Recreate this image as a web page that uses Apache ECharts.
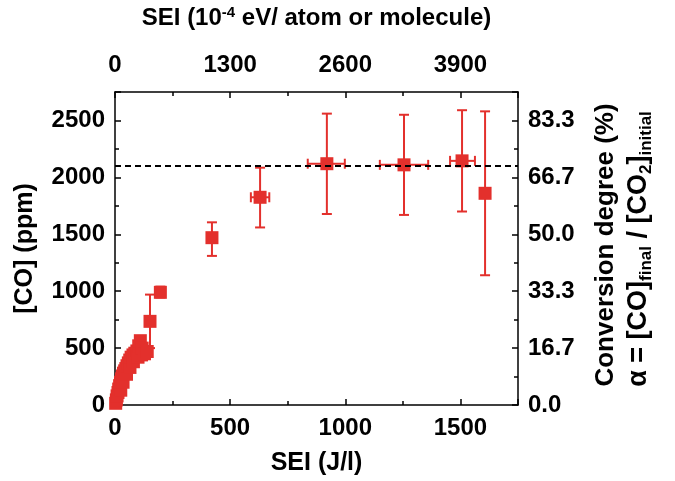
<!DOCTYPE html>
<html>
<head>
<meta charset="utf-8">
<script src="https://cdn.jsdelivr.net/npm/echarts@6/dist/echarts.min.js"></script>
<style>html,body{margin:0;padding:0;background:#fff}#c{width:675px;height:481px}</style>
</head>
<body>
<div id="c"></div>
<script>
// ---- data ----
const seiCluster = [3, 6, 9, 13, 16, 20, 25, 24, 28, 32, 35, 37, 42, 47, 50, 52, 58, 64, 65, 70, 78, 80, 86, 95, 100, 103, 110, 115, 118, 128, 140, 152, 197];
const coCluster  = [15, 45, 80, 110, 140, 170, 130, 200, 230, 255, 200, 280, 300, 320, 270, 345, 370, 395, 330, 420, 440, 380, 455, 475, 420, 520, 565, 440, 500, 450, 470, 735, 990];
const clusterErrLow  = {152: 500, 197: 945};
const clusterErrHigh = {152: 970, 197: 1040};

const seiMain  = [421, 630, 920, 1255, 1507, 1607];
const coMain   = [1470, 1825, 2120, 2110, 2145, 1860];
const yErrLow  = [1310, 1560, 1678, 1670, 1700, 1140];
const yErrHigh = [1605, 2085, 2560, 2550, 2590, 2580];
const xErrLow  = [null, 590, 837, 1150, 1455, null];
const xErrHigh = [null, 670, 998, 1360, 1563, null];

const maxLine = 2100;
const bottomTicks = [0, 500, 1000, 1500];
const topTicks = [0, 1300, 2600, 3900];
const leftTicks = [0, 500, 1000, 1500, 2000, 2500];
const rightTicks = ['0.0', '16.7', '33.3', '50.0', '66.7', '83.3'];

// ---- build ----
const RED = '#e3302c';
const FONT = 'Liberation Sans';
const pts = [];
seiCluster.forEach((x, i) => pts.push([x, coCluster[i]]));
seiMain.forEach((x, i) => pts.push([x, coMain[i]]));

const errData = [];
seiCluster.forEach((x, i) => {
  if (clusterErrLow[x] !== undefined) errData.push([x, coCluster[i], clusterErrLow[x], clusterErrHigh[x], '-', '-']);
});
seiMain.forEach((x, i) => {
  errData.push([x, coMain[i], yErrLow[i], yErrHigh[i],
    xErrLow[i] == null ? '-' : xErrLow[i], xErrHigh[i] == null ? '-' : xErrHigh[i]]);
});

function renderErr(params, api) {
  const x = api.value(0), y = api.value(1);
  const yl = api.value(2), yh = api.value(3), xl = api.value(4), xh = api.value(5);
  const style = { stroke: RED, lineWidth: 2 };
  const ch = [];
  const cap = 5;
  if (!isNaN(yl)) {
    const a = api.coord([x, yl]), b = api.coord([x, yh]);
    ch.push({ type: 'line', shape: { x1: a[0], y1: a[1], x2: b[0], y2: b[1] }, style });
    ch.push({ type: 'line', shape: { x1: a[0] - cap, y1: a[1], x2: a[0] + cap, y2: a[1] }, style });
    ch.push({ type: 'line', shape: { x1: b[0] - cap, y1: b[1], x2: b[0] + cap, y2: b[1] }, style });
  }
  if (!isNaN(xl)) {
    const a = api.coord([xl, y]), b = api.coord([xh, y]);
    ch.push({ type: 'line', shape: { x1: a[0], y1: a[1], x2: b[0], y2: b[1] }, style });
    ch.push({ type: 'line', shape: { x1: a[0], y1: a[1] - cap, x2: a[0], y2: a[1] + cap }, style });
    ch.push({ type: 'line', shape: { x1: b[0], y1: b[1] - cap, x2: b[0], y2: b[1] + cap }, style });
  }
  return { type: 'group', children: ch };
}

const axLine = { show: true, onZero: false, lineStyle: { color: '#000', width: 1.5 } };
const tick = { show: true, inside: true, length: 6, lineStyle: { color: '#000', width: 1.5 } };
const minor = { show: true, splitNumber: 2, length: 4, lineStyle: { color: '#000', width: 1.5 } };
const LBL = 24, TTL = 25;
const lbl = { color: '#000', fontFamily: FONT, fontWeight: 'bold', fontSize: LBL };
const ttl = { color: '#000', fontFamily: FONT, fontWeight: 'bold', fontSize: TTL };

const chart = echarts.init(document.getElementById('c'));
chart.setOption({
  animation: false,
  grid: { left: 115, right: 157, top: 90, bottom: 71 },
  xAxis: [
    {
      type: 'value', position: 'bottom', min: 0, max: 1750, interval: 500,
      axisLine: axLine, axisTick: tick, minorTick: minor, splitLine: { show: false },
      axisLabel: Object.assign({}, lbl, { margin: 11, showMaxLabel: false,
        formatter: v => bottomTicks.includes(v) ? String(v) : '' }),
      name: 'SEI (J/l)', nameLocation: 'middle', nameGap: 46, nameTextStyle: ttl
    },
    {
      type: 'value', position: 'top', min: 0, max: 4550, interval: 1300,
      axisLine: axLine, axisTick: tick, minorTick: minor, splitLine: { show: false },
      axisLabel: Object.assign({}, lbl, { margin: 15, showMaxLabel: false,
        formatter: v => topTicks.includes(v) ? String(v) : '' }),
      name: 'SEI (10{sup|-4} eV/ atom or molecule)', nameLocation: 'middle', nameGap: 60,
      nameTextStyle: Object.assign({}, ttl, { fontSize: 24,
        rich: { sup: { fontFamily: FONT, fontWeight: 'bold', fontSize: 15, verticalAlign: 'top', padding: [0, 0, 12, 0] } } })
    }
  ],
  yAxis: [
    {
      type: 'value', position: 'left', min: 0, max: 2750, interval: 500,
      axisLine: axLine, axisTick: tick, minorTick: minor, splitLine: { show: false },
      axisLabel: Object.assign({}, lbl, { margin: 10, showMaxLabel: false,
        formatter: v => leftTicks.includes(v) ? String(v) : '' }),
      name: '[CO] (ppm)', nameLocation: 'middle', nameGap: 77, nameRotate: 90, nameTextStyle: ttl
    },
    {
      type: 'value', position: 'right', min: 0, max: 2750 / 30, interval: 100 / 6,
      axisLine: axLine, axisTick: tick, minorTick: minor, splitLine: { show: false },
      axisLabel: Object.assign({}, lbl, { margin: 10, showMaxLabel: false,
        formatter: (v, i) => rightTicks[i] !== undefined ? rightTicks[i] : '' })
    }
  ],
  graphic: [
    {
      type: 'text', x: 606, y: 245, rotation: Math.PI / 2,
      style: { text: 'Conversion degree (%)', fill: '#000', font: 'bold 26px "Liberation Sans"',
        textAlign: 'center', textVerticalAlign: 'middle' }
    },
    {
      type: 'text', x: 639, y: 249, rotation: Math.PI / 2,
      style: {
        text: '{n|\u03b1 = [CO]}{s|final}{n| / [CO}{s|2}{n|]}{s|initial}',
        fill: '#000', textAlign: 'center', textVerticalAlign: 'middle',
        rich: {
          n: { fontFamily: FONT, fontWeight: 'bold', fontSize: 27, lineHeight: 32, color: '#000' },
          s: { fontFamily: FONT, fontWeight: 'bold', fontSize: 17, lineHeight: 32, verticalAlign: 'bottom', padding: [10, 0, 0, 0], color: '#000' }
        }
      }
    }
  ],
  series: [
    {
      type: 'custom', xAxisIndex: 0, yAxisIndex: 0, renderItem: renderErr,
      data: errData, z: 2, silent: true
    },
    {
      type: 'scatter', xAxisIndex: 0, yAxisIndex: 0, symbol: 'rect', symbolSize: 13,
      itemStyle: { color: RED, opacity: 1 }, data: pts, z: 3,
      markLine: {
        silent: true, symbol: 'none', label: { show: false },
        lineStyle: { color: '#000', type: [6, 4], width: 2 },
        data: [{ yAxis: maxLine }]
      }
    }
  ]
});
</script>
</body>
</html>
